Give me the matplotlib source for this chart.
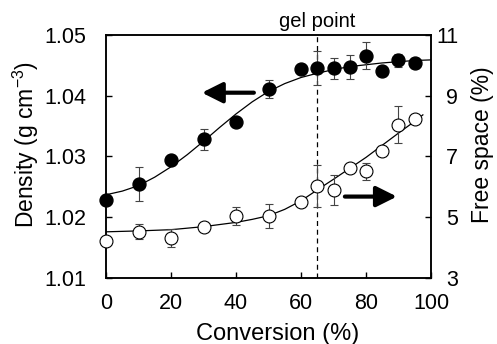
import numpy as np
import matplotlib
matplotlib.use('Agg')
import matplotlib.pyplot as plt

plt.rcParams['font.family'] = ['Liberation Sans', 'DejaVu Sans']
plt.rcParams['font.size'] = 15.5
plt.rcParams['mathtext.fontset'] = 'custom'
plt.rcParams['mathtext.rm'] = 'Liberation Sans'
plt.rcParams['mathtext.default'] = 'regular'

# measured points
conv = [0, 10, 20, 30, 40, 50, 60, 65, 70, 75, 80, 85, 90, 95]
density = [1.0229, 1.0255, 1.0295, 1.0328, 1.0356, 1.0411, 1.0444, 1.0445,
           1.0445, 1.0447, 1.0466, 1.0441, 1.0458, 1.0454]
density_err = [0.0008, 0.0028, 0.0005, 0.0017, 0.0005, 0.0015, 0, 0.0028,
               0.0017, 0.0020, 0.0022, 0, 0.0010, 0.0008]
free_space = [4.22, 4.53, 4.31, 4.69, 5.03, 5.03, 5.51, 6.02, 5.90, 6.63,
              6.51, 7.18, 8.05, 8.22]
free_space_err = [0, 0.26, 0.30, 0.15, 0.30, 0.40, 0, 0.69, 0.49, 0,
                  0.29, 0.15, 0.60, 0]

# fitted curves
fit_x_d = [0, 5, 10, 15, 20, 25, 30, 35, 40, 45, 50, 55, 60, 65, 70, 75,
           80, 85, 90, 95, 100]
fit_d = [1.0237, 1.0243, 1.0252, 1.0266, 1.0283, 1.0303, 1.0325, 1.0348,
         1.0370, 1.0390, 1.0407, 1.0420, 1.0430, 1.0437, 1.0443, 1.0448,
         1.0451, 1.0454, 1.0456, 1.0458, 1.0459]
fit_x_f = [0, 10, 20, 30, 40, 45, 50, 55, 60, 65, 70, 75, 80, 85, 90, 95, 97.5]
fit_f = [4.52, 4.55, 4.59, 4.69, 4.83, 4.93, 5.05, 5.26, 5.54, 5.90, 6.25,
         6.61, 6.97, 7.37, 7.77, 8.16, 8.37]

gel_point = 65

fig = plt.figure(figsize=(4.97, 3.44), dpi=100)
ax = fig.add_axes([0.2133, 0.1919, 0.6539, 0.7064])
ax2 = ax.twinx()

lw = 0.9
ecol = '#444444'
ax.plot(fit_x_d, fit_d, color='black', lw=lw, zorder=2)
ax.errorbar(conv, density, yerr=density_err, fmt='o', ms=9.3, color='black',
            mfc='black', mec='black', ecolor=ecol, elinewidth=0.8,
            capsize=3, capthick=0.8, zorder=3, clip_on=False)

ax2.plot(fit_x_f, fit_f, color='black', lw=lw, zorder=2)
ax2.errorbar(conv, free_space, yerr=free_space_err, fmt='o', ms=9.3,
             mfc='white', mec='black', mew=0.8, ecolor=ecol,
             elinewidth=0.8, capsize=3, capthick=0.8, zorder=3, clip_on=False)

ax.axvline(gel_point, color='black', lw=0.9, ls=(0, (4, 3)), zorder=1)
ax.text(gel_point, 1.0507, 'gel point', ha='center', va='bottom', fontsize=14.5)

# arrows pointing to the relevant axis
ax.annotate('', xy=(29.5, 1.0405), xytext=(45.5, 1.0405),
            arrowprops=dict(arrowstyle='-|>,head_length=0.8,head_width=0.4',
                            color='black', lw=3, shrinkA=0, shrinkB=0))
ax2.annotate('', xy=(89.5, 5.68), xytext=(73.5, 5.68),
             arrowprops=dict(arrowstyle='-|>,head_length=0.8,head_width=0.4',
                             color='black', lw=3, shrinkA=0, shrinkB=0))

ax.set_xlim(0, 100)
ax.set_ylim(1.01, 1.05)
ax2.set_ylim(3, 11)
ax.set_xticks([0, 20, 40, 60, 80, 100])
ax.set_yticks([1.01, 1.02, 1.03, 1.04, 1.05])
ax.set_yticklabels(['1.01', '1.02', '1.03', '1.04', '1.05'])
ax2.set_yticks([3, 5, 7, 9, 11])

ax.tick_params(axis='both', direction='in', length=4, width=1)
ax.tick_params(axis='x', pad=11)
ax.tick_params(axis='y', pad=14)
ax.tick_params(top=False)
ax2.tick_params(axis='y', direction='in', length=4, width=1, pad=19.5)
for lbl in ax2.get_yticklabels():
    lbl.set_horizontalalignment('right')

for a in (ax, ax2):
    for s in a.spines.values():
        s.set_linewidth(1.1)

ax.set_xlabel('Conversion (%)', fontsize=17)
ax.xaxis.set_label_coords(0.528, -0.186)
ax.set_ylabel('Density (g cm$^{-3}$)', fontsize=16.5)
ax.yaxis.set_label_coords(-0.2, 0.55)
ax2.set_ylabel('Free space (%)', fontsize=16.5)
ax2.yaxis.set_label_coords(1.123, 0.55)

fig.savefig('out.png', dpi=100)
